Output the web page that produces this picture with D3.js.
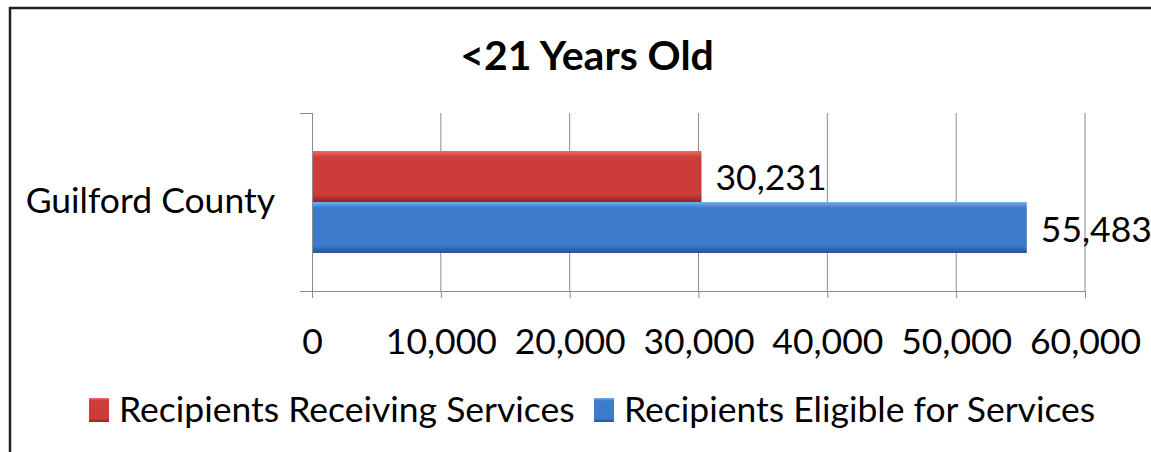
<!DOCTYPE html>
<html>
<head>
<meta charset="utf-8">
<script src="https://cdn.jsdelivr.net/npm/d3@7"></script>
<style>
  body { margin: 0; background: #fff; }
  text { font-family: Lato, "Open Sans", sans-serif; fill: #000; }
</style>
</head>
<body>
<script>
// <21 Years Old - recipients receiving vs eligible for services

var categories = ["Guilford County"];
var seriesNames = ["Recipients Receiving Services", "Recipients Eligible for Services"];
var receiving = [30231];
var eligible = [55483];
var xTicks = [0, 10000, 20000, 30000, 40000, 50000, 60000];
var chartTitle = "<21 Years Old";

var width = 1151, height = 452;
var fontSize = "35.5px";

var svg = d3.select("body")
  .append("svg")
  .attr("width", width)
  .attr("height", height);

var defs = svg.append("defs");

function barGradient(id, light, mid, dark) {
  var g = defs.append("linearGradient")
    .attr("id", id)
    .attr("x1", 0).attr("y1", 0).attr("x2", 0).attr("y2", 1);
  g.append("stop").attr("offset", "0%").attr("stop-color", light);
  g.append("stop").attr("offset", "12%").attr("stop-color", mid);
  g.append("stop").attr("offset", "85%").attr("stop-color", mid);
  g.append("stop").attr("offset", "100%").attr("stop-color", dark);
}
barGradient("gRed", "#f06a66", "#cc3d3a", "#8e2422");
barGradient("gBlue", "#6fb2ef", "#3b7bc9", "#27548e");

// outer frame (only top/left visible in the reference)
svg.append("rect")
  .attr("x", 10).attr("y", 8)
  .attr("width", width + 20).attr("height", height + 20)
  .attr("fill", "none")
  .attr("stroke", "#222")
  .attr("stroke-width", 2.5);

var x = d3.scaleLinear()
  .domain([0, 60000])
  .range([312, 1085]);

var y = d3.scaleBand()
  .domain(categories)
  .range([113, 291])
  .paddingOuter(0.3725);

var ySeries = d3.scaleBand()
  .domain(seriesNames)
  .range([0, y.bandwidth()]);

// gridlines
svg.append("g")
  .selectAll("line")
  .data(xTicks.slice(1))
  .enter()
  .append("line")
  .attr("x1", function (d) { return x(d); })
  .attr("x2", function (d) { return x(d); })
  .attr("y1", 113)
  .attr("y2", 291)
  .attr("stroke", "#8c8c8c")
  .attr("stroke-width", 1);

// x axis
var xAxis = svg.append("g")
  .attr("transform", "translate(0,291)")
  .call(d3.axisBottom(x)
    .tickValues(xTicks)
    .tickSize(7)
    .tickPadding(31)
    .tickFormat(d3.format(",")));
xAxis.select(".domain").remove();
xAxis.selectAll(".tick line").attr("stroke", "#8c8c8c");
xAxis.selectAll(".tick text")
  .style("font-family", "Lato, sans-serif")
  .style("font-size", fontSize)
  .attr("fill", "#000");

svg.append("line")
  .attr("x1", 300).attr("x2", x(60000))
  .attr("y1", 291.5).attr("y2", 291.5)
  .attr("stroke", "#8c8c8c");

// y axis
var yAxisG = svg.append("g");
yAxisG.append("line")
  .attr("x1", 312.5).attr("x2", 312.5)
  .attr("y1", 113).attr("y2", 298)
  .attr("stroke", "#8c8c8c");
yAxisG.selectAll("line.tk")
  .data([113, 291])
  .enter()
  .append("line")
  .attr("class", "tk")
  .attr("x1", 300).attr("x2", 312)
  .attr("y1", function (d) { return d + 0.5; })
  .attr("y2", function (d) { return d + 0.5; })
  .attr("stroke", "#8c8c8c");

svg.selectAll("text.cat")
  .data(categories)
  .enter()
  .append("text")
  .attr("class", "cat")
  .attr("x", 275)
  .attr("y", function (d) { return y(d) + y.bandwidth() / 2 + 11; })
  .attr("text-anchor", "end")
  .style("font-size", fontSize)
  .text(function (d) { return d; });

// bars
var rows = categories.map(function (c, i) {
  return [
    { cat: c, series: seriesNames[0], value: receiving[i], fill: "url(#gRed)" },
    { cat: c, series: seriesNames[1], value: eligible[i], fill: "url(#gBlue)" }
  ];
}).flat();

svg.selectAll("rect.bar")
  .data(rows)
  .enter()
  .append("rect")
  .attr("class", "bar")
  .attr("x", x(0) + 1)
  .attr("y", function (d) { return y(d.cat) + ySeries(d.series); })
  .attr("width", function (d) { return x(d.value) - x(0) - 1; })
  .attr("height", ySeries.bandwidth())
  .attr("fill", function (d) { return d.fill; });

svg.selectAll("text.val")
  .data(rows)
  .enter()
  .append("text")
  .attr("class", "val")
  .attr("x", function (d) { return x(d.value) + 14; })
  .attr("y", function (d) { return y(d.cat) + ySeries(d.series) + ySeries.bandwidth() / 2 + 14; })
  .style("font-size", fontSize)
  .text(function (d) { return d3.format(",")(d.value); });

// title
svg.append("text")
  .attr("x", 587)
  .attr("y", 70)
  .attr("text-anchor", "middle")
  .style("font-size", "41px")
  .style("font-weight", "bold")
  .text(chartTitle);

// legend
var legendColors = ["url(#gRed)", "url(#gBlue)"];
var legendX = [89, 594];
var legend = svg.selectAll("g.leg")
  .data(seriesNames)
  .enter()
  .append("g")
  .attr("class", "leg")
  .attr("transform", function (d, i) { return "translate(" + legendX[i] + ",0)"; });

legend.append("rect")
  .attr("x", 0).attr("y", 398)
  .attr("width", 20).attr("height", 24)
  .attr("fill", function (d, i) { return legendColors[i]; });

legend.append("text")
  .attr("x", 30)
  .attr("y", 422)
  .style("font-size", fontSize)
  .text(function (d) { return d; });
</script>
</body>
</html>
